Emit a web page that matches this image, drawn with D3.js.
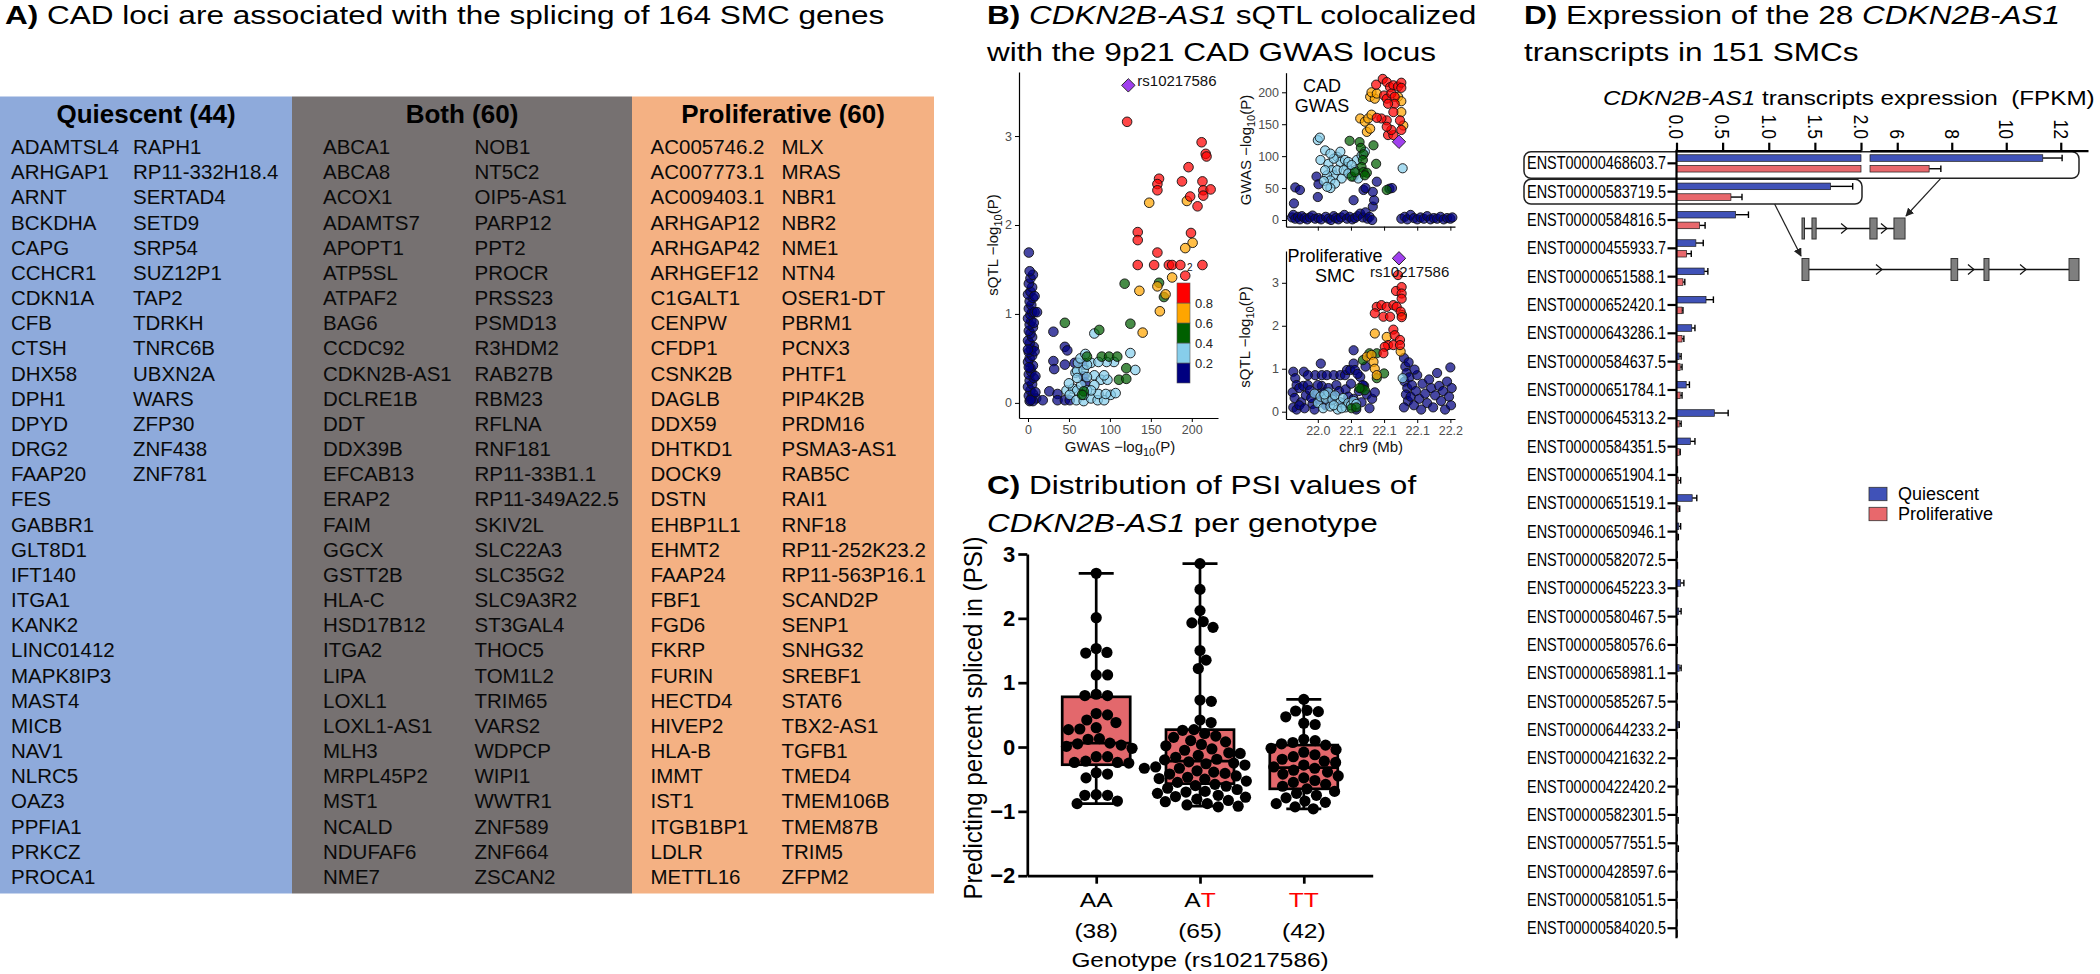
<!DOCTYPE html>
<html><head><meta charset="utf-8">
<script src="https://cdn.jsdelivr.net/npm/d3@7"></script>
<style>
body{margin:0;background:#fff}
svg{display:block}
text{font-family:"Liberation Sans",Arial,Helvetica,sans-serif;white-space:pre}
</style>
</head><body>
<svg id="c" width="2100" height="974"></svg>
<script>
// ================= DATA =================
// Panel A
const quiescentGenes = ["ADAMTSL4","ARHGAP1","ARNT","BCKDHA","CAPG","CCHCR1","CDKN1A","CFB","CTSH","DHX58","DPH1","DPYD","DRG2","FAAP20","FES","GABBR1","GLT8D1","IFT140","ITGA1","KANK2","LINC01412","MAPK8IP3","MAST4","MICB","NAV1","NLRC5","OAZ3","PPFIA1","PRKCZ","PROCA1","RAPH1","RP11-332H18.4","SERTAD4","SETD9","SRP54","SUZ12P1","TAP2","TDRKH","TNRC6B","UBXN2A","WARS","ZFP30","ZNF438","ZNF781"];
const bothGenes = ["ABCA1","ABCA8","ACOX1","ADAMTS7","APOPT1","ATP5SL","ATPAF2","BAG6","CCDC92","CDKN2B-AS1","DCLRE1B","DDT","DDX39B","EFCAB13","ERAP2","FAIM","GGCX","GSTT2B","HLA-C","HSD17B12","ITGA2","LIPA","LOXL1","LOXL1-AS1","MLH3","MRPL45P2","MST1","NCALD","NDUFAF6","NME7","NOB1","NT5C2","OIP5-AS1","PARP12","PPT2","PROCR","PRSS23","PSMD13","R3HDM2","RAB27B","RBM23","RFLNA","RNF181","RP11-33B1.1","RP11-349A22.5","SKIV2L","SLC22A3","SLC35G2","SLC9A3R2","ST3GAL4","THOC5","TOM1L2","TRIM65","VARS2","WDPCP","WIPI1","WWTR1","ZNF589","ZNF664","ZSCAN2"];
const proliferativeGenes = ["AC005746.2","AC007773.1","AC009403.1","ARHGAP12","ARHGAP42","ARHGEF12","C1GALT1","CENPW","CFDP1","CSNK2B","DAGLB","DDX59","DHTKD1","DOCK9","DSTN","EHBP1L1","EHMT2","FAAP24","FBF1","FGD6","FKRP","FURIN","HECTD4","HIVEP2","HLA-B","IMMT","IST1","ITGB1BP1","LDLR","METTL16","MLX","MRAS","NBR1","NBR2","NME1","NTN4","OSER1-DT","PBRM1","PCNX3","PHTF1","PIP4K2B","PRDM16","PSMA3-AS1","RAB5C","RAI1","RNF18","RP11-252K23.2","RP11-563P16.1","SCAND2P","SENP1","SNHG32","SREBF1","STAT6","TBX2-AS1","TGFB1","TMED4","TMEM106B","TMEM87B","TRIM5","ZFPM2"];

// Panel B : LD classes 0:<0.2 1:0.2-0.4 2:0.4-0.6 3:0.6-0.8 4:>0.8
const ldBreaks = [0,0.2,0.4,0.6,0.8,1.0];
const ldLabels = ["0.2","0.4","0.6","0.8"];
const leadSnp = "rs10217586";
const leadGwas = 122.5, leadSqtl = 3.57, leadPos = 22.1225;
// [GWAS -log10P, sQTL -log10P, LD class]
const colocPoints = [
[2,0.02,0],[4,0.05,0],[1,0.08,0],[6,0.10,0],[3,0.14,0],[0,0.18,0],[5,0.21,0],[2,0.25,0],[7,0.28,0],[1,0.32,0],[4,0.35,0],[3,0.39,0],[6,0.42,0],[0,0.46,0],[2,0.50,0],[5,0.53,0],[1,0.57,0],[4,0.60,0],[7,0.63,0],[2,0.67,0],[0,0.70,0],[5,0.74,0],[3,0.78,0],[1,0.81,0],[6,0.85,0],[2,0.88,0],[4,0.92,0],[0,0.95,0],[3,0.99,0],[5,1.02,0],[1,1.06,0],[4,1.10,0],[2,1.14,0],[6,1.18,0],[0,1.22,0],[3,1.25,0],[8,1.20,0],[5,1.30,0],[1,1.34,0],[3,1.40,0],[6,1.44,0],[2,1.48,0],[1,1.69,0],[9,0.30,0],[8,0.58,0],[10,0.05,0],[7,0.90,0],[9,0.12,0],[0,0.60,0],[1,0.40,0],[6,0.02,0],[3,0.03,0],[8,1.02,0],[11,1.02,0],
[18,0.03,0],[26,0.13,0],[31,0.80,0],[31,0.47,0],[32,0.38,0],[36,0.10,0],[36,0.03,0],[45,0.63,0],[48,0.59,0],[45,0.43,0],[45,0.03,0],[51,0.03,0],[57,0.45,0],[68,0.43,0],[68,0.30,0],[70,0.23,0],
[81,0.78,1],[58,0.34,1],[60,0.36,1],[68,0.37,1],[77,0.45,1],[61,0.45,1],[72,0.43,1],[81,0.31,1],[89,0.26,1],[97,0.26,1],[93,0.31,1],[47,0.14,1],[55,0.16,1],[60,0.14,1],[51,0.09,1],[59,0.03,1],[68,0.02,1],[77,0.05,1],[85,0.03,1],[93,0.03,1],[101,0.09,1],[107,0.11,1],[125,0.56,1],[131,0.37,1],[105,0.46,1],[96,0.46,1],[86,0.46,1],[72,0.29,1],[81,0.20,1],[65,0.20,1],[72,0.14,1],[86,0.10,1],[95,0.10,1],[60,0.28,1],[50,0.22,1],[77,0.14,1],[68,0.09,1],[64,0.50,1],[70,0.55,1],
[45,0.90,2],[87,0.82,2],[125,0.89,2],[72,0.52,2],[90,0.52,2],[99,0.52,2],[109,0.52,2],[120,0.39,2],[111,0.26,2],[120,0.27,2],[68,0.13,2],[66,0.09,2],[166,1.19,2],[118,1.34,2],[160,1.35,2],
[140,0.79,3],[161,1.03,3],[168,1.22,3],[136,1.26,3],[158,1.31,3],[176,1.41,3],[148,2.25,3],[194,2.27,3],[201,1.80,3],[192,1.74,3],
[121,3.16,4],[212,2.93,4],[217,2.80,4],[218,2.77,4],[196,2.65,4],[160,2.52,4],[158,2.46,4],[158,2.39,4],[188,2.49,4],[213,2.49,4],[198,2.32,4],[214,2.39,4],[223,2.40,4],[214,2.33,4],[207,2.21,4],[134,1.92,4],[134,1.83,4],[199,1.91,4],[158,1.69,4],[134,1.55,4],[154,1.55,4],[172,1.55,4],[176,1.55,4],[186,1.55,4],[213,1.55,4],[192,1.43,4]
];
// [chr9 position (Mb), CAD GWAS -log10P, LD class]
const gwasPoints = [
[21.961,4,0],[21.963,8,0],[21.966,2,0],[21.970,5,0],[21.973,1,0],[21.976,6,0],[21.980,3,0],[21.984,1,0],[21.988,4,0],[21.992,7,0],[21.996,2,0],[22.001,3,0],[22.005,1,0],[22.012,5,0],[22.016,2,0],[22.020,0,0],[22.024,6,0],[22.027,3,0],[22.031,1,0],[22.035,4,0],[22.040,8,0],[22.044,2,0],[22.048,5,0],[22.052,1,0],[22.056,3,0],[22.060,6,0],[22.064,10,0],[22.068,4,0],[22.072,12,0],[22.075,2,0],[22.078,5,0],[22.082,0,0],
[21.964,26,0],[21.966,51,0],[21.973,47,0],[21.998,68,0],[22.001,56,0],[22.000,36,0],[22.054,31,0],[22.069,47,0],[22.072,50,0],[22.083,21,0],[22.085,31,0],[22.083,44,0],[22.089,60,0],[22.108,49,0],[22.112,50,0],
[22.126,2,0],[22.131,5,0],[22.135,1,0],[22.140,8,0],[22.145,3,0],[22.150,1,0],[22.155,4,0],[22.160,2,0],[22.165,6,0],[22.170,1,0],[22.175,3,0],[22.180,2,0],[22.185,5,0],[22.190,1,0],[22.195,3,0],[22.200,2,0],[22.203,4,0],
[22.000,125,1],[22.003,129,1],[22.004,94,1],[22.011,109,1],[22.016,88,1],[22.021,78,1],[22.024,70,1],[22.014,70,1],[22.019,62,1],[22.009,61,1],[22.029,99,1],[22.034,91,1],[22.041,94,1],[22.044,83,1],[22.049,73,1],[22.054,68,1],[22.036,65,1],[22.026,57,1],[22.019,50,1],[22.029,78,1],[22.039,78,1],[22.046,73,1],[22.056,78,1],[22.059,94,1],[22.066,101,1],[22.014,52,1],[22.011,78,1],[22.024,96,1],[22.034,107,1],[22.019,104,1],[22.046,91,1],[22.051,86,1],[22.061,65,1],[22.071,107,1],[22.128,81,1],
[22.048,124,2],[22.063,122,2],[22.065,113,2],[22.069,103,2],[22.068,94,2],[22.066,83,2],[22.084,117,2],[22.088,88,2],[22.051,68,2],[22.056,75,2],[22.069,75,2],[22.074,74,2],[22.104,47,2],[22.071,70,2],
[22.064,159,3],[22.071,154,3],[22.076,159,3],[22.081,165,3],[22.074,138,3],[22.079,143,3],[22.079,193,3],[22.086,190,3],[22.081,200,3],[22.089,198,3],[22.121,193,3],[22.126,186,3],[22.126,169,3],[22.129,148,3],
[22.088,212,4],[22.098,221,4],[22.104,216,4],[22.109,208,4],[22.114,211,4],[22.121,209,4],[22.126,215,4],[22.126,207,4],[22.100,195,4],[22.104,190,4],[22.111,198,4],[22.116,193,4],[22.116,182,4],[22.106,182,4],[22.114,169,4],[22.104,156,4],[22.096,159,4],[22.089,160,4],[22.106,133,4],[22.114,133,4],[22.124,156,4],[22.126,141,4],[22.111,141,4],[22.104,146,4]
];
// [chr9 position (Mb), proliferative SMC sQTL -log10P, LD class]
const sqtlPoints = [
[21.963,0.93,0],[21.966,0.78,0],[21.979,0.93,0],[22.0045,1.12,0],[21.996,0.85,0],[22.006,0.85,0],[22.0135,0.85,0],[22.024,0.85,0],[22.034,0.85,0],[22.041,0.85,0],[22.044,0.97,0],[22.049,0.97,0],[22.054,1.12,0],[22.056,0.97,0],[22.054,1.43,0],[22.064,0.81,0],
[21.962,0.45,0],[21.965,0.32,0],[21.968,0.62,0],[21.972,0.55,0],[21.975,0.22,0],[21.978,0.60,0],[21.982,0.38,0],[21.985,0.62,0],[21.988,0.50,0],[21.992,0.18,0],[21.995,0.05,0],[21.998,0.40,0],[22.002,0.28,0],[22.006,0.60,0],[22.010,0.45,0],[21.963,0.10,0],[21.968,0.05,0],[21.972,0.15,0],[21.980,0.08,0],[21.990,0.32,0],[22.012,0.15,0],[22.016,0.55,0],[22.022,0.38,0],[22.028,0.62,0],[22.032,0.48,0],[22.038,0.20,0],[22.042,0.52,0],[22.046,0.35,0],[22.050,0.65,0],[22.054,0.30,0],[22.058,0.05,0],[22.062,0.48,0],[22.066,0.22,0],[22.070,0.60,0],[22.074,0.40,0],[22.078,0.08,0],[22.082,0.30,0],[22.086,0.45,0],[22.060,0.88,0],[22.068,0.62,0],[22.072,1.05,0],[21.985,0.85,0],[22.000,0.62,0],[22.020,0.25,0],
[22.130,1.25,0],[22.132,1.05,0],[22.134,0.90,0],[22.131,0.70,0],[22.135,0.55,0],[22.133,0.40,0],[22.136,0.25,0],[22.130,0.10,0],[22.138,0.80,0],[22.140,0.35,0],[22.142,0.62,0],[22.145,0.15,0],[22.148,0.48,0],[22.150,0.85,0],[22.153,0.30,0],[22.156,0.05,0],[22.158,0.65,0],[22.162,0.42,0],[22.165,0.20,0],[22.168,0.75,0],[22.171,0.55,0],[22.174,0.10,0],[22.177,0.38,0],[22.180,0.90,0],[22.183,0.60,0],[22.186,0.25,0],[22.189,0.48,0],[22.192,0.05,0],[22.195,0.70,0],[22.198,0.35,0],[22.200,1.03,0],[22.202,0.55,0],[22.201,0.15,0],[22.137,1.15,0],[22.146,0.98,0],
[21.995,0.42,1],[22.000,0.20,1],[22.004,0.35,1],[22.008,0.08,1],[22.012,0.30,1],[22.016,0.45,1],[22.019,0.12,1],[22.022,0.28,1],[22.026,0.38,1],[22.030,0.05,1],[22.034,0.22,1],[22.038,0.32,1],[22.042,0.10,1],[22.046,0.20,1],[22.050,0.15,1],[22.054,0.25,1],[22.058,0.18,1],[22.010,0.40,1],[22.024,0.15,1],[22.036,0.08,1],[22.128,0.78,1],
[22.078,1.36,2],[22.089,1.36,2],[22.100,0.89,2],[22.068,1.20,2],[22.089,0.78,2],[22.066,0.54,2],[22.071,0.50,2],[22.051,0.08,2],[22.058,0.10,2],[22.063,0.55,2],
[22.086,1.82,3],[22.104,1.74,3],[22.127,2.25,3],[22.074,1.28,3],[22.081,1.32,3],[22.084,1.16,3],[22.086,1.00,3],[22.125,1.40,3],[22.089,0.85,3],
[22.089,2.44,4],[22.096,2.48,4],[22.104,2.44,4],[22.114,2.48,4],[22.119,2.44,4],[22.086,2.29,4],[22.099,2.21,4],[22.109,2.21,4],[22.118,2.81,4],[22.1265,2.90,4],[22.1265,2.75,4],[22.1265,2.63,4],[22.125,2.33,4],[22.1265,2.20,4],[22.121,3.18,4],[22.114,1.91,4],[22.116,1.78,4],[22.124,1.67,4],[22.106,1.55,4],[22.114,1.55,4],[22.101,1.51,4],[22.099,1.36,4],[22.124,1.55,4]
];
const colocXTicks = [0,50,100,150,200];
const colocYTicks = [0,1,2,3];
const gwasYTicks = [0,50,100,150,200];
const posTicks = [22.0,22.05,22.1,22.15,22.2];
const posTickLabels = ["22.0","22.1","22.1","22.1","22.2"];

// Panel C
const genotypes = ["AA","AT","TT"];
const genotypeN = [38,65,42];
const psiAA = [2.70,2.01,1.53,1.47,1.46,1.12,1.12,0.82,0.80,0.80,0.52,0.50,0.42,0.38,0.30,0.28,0.27,0.13,0.12,0.06,0.05,0.03,0.01,-0.02,-0.15,-0.15,-0.22,-0.24,-0.24,-0.25,-0.40,-0.42,-0.48,-0.74,-0.75,-0.75,-0.84,-0.88];
const psiAT = [2.85,2.45,2.12,1.95,1.93,1.86,1.50,1.35,1.22,0.73,0.71,0.42,0.38,0.27,0.26,0.21,0.17,0.15,0.10,0.08,0.04,0.02,-0.03,-0.05,-0.09,-0.10,-0.13,-0.16,-0.19,-0.20,-0.23,-0.25,-0.26,-0.28,-0.31,-0.33,-0.33,-0.37,-0.39,-0.41,-0.42,-0.45,-0.47,-0.49,-0.50,-0.53,-0.55,-0.58,-0.60,-0.61,-0.64,-0.66,-0.69,-0.70,-0.72,-0.75,-0.77,-0.78,-0.81,-0.83,-0.85,-0.88,-0.90,-0.92,-0.93];
const psiTT = [0.74,0.57,0.56,0.55,0.47,0.37,0.35,0.12,0.10,0.07,0.05,0.03,-0.02,-0.04,-0.08,-0.12,-0.15,-0.19,-0.22,-0.24,-0.28,-0.31,-0.33,-0.36,-0.39,-0.42,-0.45,-0.48,-0.52,-0.55,-0.58,-0.61,-0.65,-0.69,-0.72,-0.75,-0.79,-0.84,-0.86,-0.88,-0.93,-0.96];
const boxMax = [2.70,2.85,0.74];
const boxQ3 = [0.78,0.27,0.03];
const boxMedian = [0.06,-0.22,-0.32];
const boxQ1 = [-0.275,-0.57,-0.65];
const boxMin = [-0.88,-0.92,-0.96];
const psiTicks = [-2,-1,0,1,2,3];

// Panel D
const transcripts = ["ENST00000468603.7","ENST00000583719.5","ENST00000584816.5","ENST00000455933.7","ENST00000651588.1","ENST00000652420.1","ENST00000643286.1","ENST00000584637.5","ENST00000651784.1","ENST00000645313.2","ENST00000584351.5","ENST00000651904.1","ENST00000651519.1","ENST00000650946.1","ENST00000582072.5","ENST00000645223.3","ENST00000580467.5","ENST00000580576.6","ENST00000658981.1","ENST00000585267.5","ENST00000644233.2","ENST00000421632.2","ENST00000422420.2","ENST00000582301.5","ENST00000577551.5","ENST00000428597.6","ENST00000581051.5","ENST00000584020.5"];
const quiescentMean = [11.34,1.67,0.64,0.21,0.30,0.32,0.165,0.03,0.105,0.41,0.15,0.005,0.17,0.025,0.004,0.045,0.025,0.004,0.03,0.004,0.02,0.003,0.004,0.004,0.004,0.002,0.002,0.002];
const quiescentErr = [12.05,1.91,0.78,0.29,0.34,0.40,0.20,0.05,0.14,0.56,0.20,0.01,0.22,0.045,0.008,0.08,0.05,0.008,0.05,0.008,0.03,0.005,0.008,0.008,0.008,0.004,0.004,0.004];
const proliferativeMean = [7.17,0.59,0.25,0.11,0.07,0.06,0.06,0.04,0.04,0.03,0.03,0.02,0.02,0.01,0.004,0.005,0.005,0.004,0.003,0.003,0.003,0.003,0.005,0.006,0.008,0.003,0.002,0.002];
const proliferativeErr = [7.6,0.71,0.31,0.16,0.09,0.07,0.08,0.06,0.06,0.05,0.04,0.045,0.035,0.02,0.01,0.012,0.01,0.008,0.006,0.008,0.008,0.006,0.015,0.018,0.02,0.005,0.004,0.004];
const fpkmTicksLow = [0,0.5,1.0,1.5,2.0];
const fpkmTicksHigh = [6,8,10,12];
const conditions = ["Quiescent","Proliferative"];
// gene model exons (relative positions along the locus, 0..1)
const geneModel1 = {end:0.372, exons:[[0,0.009],[0.036,0.051],[0.245,0.271],[0.332,0.372]], arrows:[0.152,0.296]};
const geneModel2 = {end:1.0, exons:[[0,0.025],[0.538,0.562],[0.657,0.675],[0.964,1.0]], arrows:[0.278,0.61,0.798]};

// ================= DRAWING =================
const svg = d3.select("#c");
const FONT = '"Liberation Sans",Arial,Helvetica,sans-serif';

function title(x, y, parts, size=26.5, sx=1.19){
  const t = svg.append("text").attr("transform",`translate(${x},${y}) scale(${sx},1)`).attr("font-size",size).attr("fill","#000");
  parts.forEach(p=>{
    const s=t.append("tspan").text(p.t);
    if(p.b) s.attr("font-weight","bold");
    if(p.i) s.attr("font-style","italic");
  });
  return t;
}
function styleAxis(g, fs, color, weight){
  g.attr("font-family",null).attr("font-size",null);
  g.selectAll("text").attr("font-family",FONT).attr("font-size",fs).attr("fill",color).attr("font-weight",weight||null);
  g.selectAll("line,path").attr("stroke","#000");
}

// ---------- Panel A ----------
title(5,24,[{t:"A)",b:true},{t:" CAD loci are associated with the splicing of 164 SMC genes"}]);
const blocks = [
  {name:"Quiescent", genes:quiescentGenes, x0:0, x1:292, cols:[11,133], fill:"#8eaadb"},
  {name:"Both", genes:bothGenes, x0:292, x1:632, cols:[323,474.5], fill:"#767171"},
  {name:"Proliferative", genes:proliferativeGenes, x0:632, x1:934, cols:[650.5,781.5], fill:"#f4b183"}
];
const rowY = d3.scaleLinear().domain([0,29]).range([154,884]);
blocks.forEach(b=>{
  svg.append("rect").attr("x",b.x0).attr("y",96.5).attr("width",b.x1-b.x0).attr("height",893.5-96.5).attr("fill",b.fill);
  svg.append("text").attr("x",(b.x0+b.x1)/2).attr("y",122.5).attr("text-anchor","middle")
    .attr("font-size",26).attr("font-weight","bold").text(`${b.name} (${b.genes.length})`);
  b.genes.forEach((g,i)=>{
    const col = Math.floor(i/30), row = i%30;
    svg.append("text").attr("x",b.cols[col]).attr("y",rowY(row)).attr("font-size",20.5).attr("fill","#0a0a0a").text(g);
  });
});

// ---------- Panel B ----------
title(987,24,[{t:"B)",b:true},{t:" "},{t:"CDKN2B-AS1",i:true},{t:" sQTL colocalized"}]);
title(987,61,[{t:"with the 9p21 CAD GWAS locus"}]);
const ldColor = ["#000080","#87CEEB","#006000","#FFA500","#FF0000"];
function drawPoints(data, xs, ys, r){
  const sorted = data.slice().sort((a,b)=>a[2]-b[2]);
  svg.append("g").selectAll("circle").data(sorted).join("circle")
    .attr("cx",d=>xs(d[0])).attr("cy",d=>ys(d[1])).attr("r",r)
    .attr("fill",d=>ldColor[d[2]]).attr("fill-opacity",0.72)
    .attr("stroke","#111").attr("stroke-width",0.9);
}
function diamond(x,y){
  svg.append("path").attr("d",d3.symbol(d3.symbolSquare,90)()).attr("transform",`translate(${x},${y}) rotate(45)`)
    .attr("fill","#a040ee").attr("stroke","#222").attr("stroke-width",0.9);
}
function ylabel(x,y,pre){
  const t = svg.append("text").attr("transform",`translate(${x},${y}) rotate(-90)`).attr("text-anchor","middle").attr("font-size",15).attr("fill","#111");
  t.append("tspan").text(pre+" \u2212log");
  t.append("tspan").attr("font-size",11).attr("dy",4).text("10");
  t.append("tspan").attr("dy",-4).text("(P)");
}
// left: sQTL vs GWAS
const xG = d3.scaleLinear().domain([-11,232]).range([1019,1218]);
const yS = d3.scaleLinear().domain([-0.17,3.72]).range([418,72]);
drawPoints(colocPoints, xG, yS, 4.8);
diamond(xG(leadGwas), yS(leadSqtl));
svg.append("text").attr("x",xG(leadGwas)+9).attr("y",yS(leadSqtl)+1).attr("font-size",15).attr("fill","#111").text(leadSnp);
let g = svg.append("g").attr("transform","translate(0,418)").call(d3.axisBottom(xG).tickValues(colocXTicks).tickSize(4).tickSizeOuter(0).tickPadding(3).tickFormat(d3.format("d")));
styleAxis(g,12.5,"#4d4d4d"); g.select(".domain").attr("stroke-width",1.2);
g = svg.append("g").attr("transform","translate(1019,0)").call(d3.axisLeft(yS).tickValues(colocYTicks).tickSize(4).tickSizeOuter(0).tickPadding(3).tickFormat(d3.format("d")));
styleAxis(g,12.5,"#4d4d4d"); g.select(".domain").attr("stroke-width",1.2);
(function(){
  const t = svg.append("text").attr("x",1120).attr("y",452).attr("text-anchor","middle").attr("font-size",15).attr("fill","#111");
  t.append("tspan").text("GWAS \u2212log"); t.append("tspan").attr("font-size",11).attr("dy",4).text("10"); t.append("tspan").attr("dy",-4).text("(P)");
})();
ylabel(998,245,"sQTL");
// colour bar legend
const yLeg = d3.scaleLinear().domain([0,1]).range([383,283]);
svg.append("text").attr("x",1187).attr("y",271).attr("font-size",10).attr("fill","#111").text("2");
ldColor.forEach((c,i)=>{
  svg.append("rect").attr("x",1177).attr("width",13).attr("y",yLeg(ldBreaks[i+1])).attr("height",yLeg(ldBreaks[i])-yLeg(ldBreaks[i+1]))
    .attr("fill",c).attr("stroke","#555").attr("stroke-width",0.6);
});
ldLabels.forEach((l,i)=>{
  svg.append("text").attr("x",1195).attr("y",yLeg(ldBreaks[i+1])+4.5).attr("font-size",13).attr("fill","#222").text(l);
});

// right top: CAD GWAS regional
const xM = d3.scaleLinear().domain([21.952,22.207]).range([1286,1455]);
const yGW = d3.scaleLinear().domain([-10.5,230.7]).range([226.7,72.7]);
drawPoints(gwasPoints, xM, yGW, 4.6);
diamond(xM(leadPos), yGW(leadGwas));
g = svg.append("g").attr("transform","translate(0,226.7)").call(d3.axisBottom(xM).tickValues(posTicks).tickSize(4).tickSizeOuter(0).tickFormat(""));
styleAxis(g,12.5,"#4d4d4d"); g.select(".domain").attr("stroke-width",1.2);
g = svg.append("g").attr("transform","translate(1286,0)").call(d3.axisLeft(yGW).tickValues(gwasYTicks).tickSize(4).tickSizeOuter(0).tickPadding(3).tickFormat(d3.format("d")));
styleAxis(g,12.5,"#4d4d4d"); g.select(".domain").attr("stroke-width",1.2);
svg.append("text").attr("x",1322).attr("y",92).attr("text-anchor","middle").attr("font-size",18).text("CAD");
svg.append("text").attr("x",1322).attr("y",112).attr("text-anchor","middle").attr("font-size",18).text("GWAS");
ylabel(1251,150,"GWAS");

// right bottom: proliferative SMC sQTL regional
const ySP = d3.scaleLinear().domain([-0.17,3.74]).range([419,251]);
drawPoints(sqtlPoints, xM, ySP, 4.6);
diamond(xM(leadPos), ySP(leadSqtl));
svg.append("text").attr("x",1370).attr("y",277).attr("font-size",15).attr("fill","#111").text(leadSnp);
g = svg.append("g").attr("transform","translate(0,419)").call(d3.axisBottom(xM).tickValues(posTicks).tickSize(4).tickSizeOuter(0).tickPadding(3).tickFormat((d,i)=>posTickLabels[i]));
styleAxis(g,12.5,"#4d4d4d"); g.select(".domain").attr("stroke-width",1.2);
g = svg.append("g").attr("transform","translate(1286,0)").call(d3.axisLeft(ySP).tickValues(colocYTicks).tickSize(4).tickSizeOuter(0).tickPadding(3).tickFormat(d3.format("d")));
styleAxis(g,12.5,"#4d4d4d"); g.select(".domain").attr("stroke-width",1.2);
svg.append("text").attr("x",1335).attr("y",262).attr("text-anchor","middle").attr("font-size",18).text("Proliferative");
svg.append("text").attr("x",1335).attr("y",282).attr("text-anchor","middle").attr("font-size",18).text("SMC");
svg.append("text").attr("x",1371).attr("y",452).attr("text-anchor","middle").attr("font-size",15).attr("fill","#111").text("chr9 (Mb)");
ylabel(1250,337,"sQTL");

// ---------- Panel C ----------
title(987,494,[{t:"C)",b:true},{t:" Distribution of PSI values of"}]);
title(987,532,[{t:"CDKN2B-AS1",i:true},{t:" per genotype"}]);
const yC = d3.scaleLinear().domain([-2,3]).range([875.7,554]);
const xC = d3.scalePoint().domain(genotypes).range([1027.3,1372.7]).padding(0.664);
const psi = [psiAA, psiAT, psiTT];
const boxW = 68, capW = 35, dotR = 5.6;
genotypes.forEach((gt,i)=>{
  const cx = xC(gt);
  svg.append("line").attr("x1",cx).attr("x2",cx).attr("y1",yC(boxMax[i])).attr("y2",yC(boxQ3[i])).attr("stroke","#000").attr("stroke-width",2.7);
  svg.append("line").attr("x1",cx).attr("x2",cx).attr("y1",yC(boxQ1[i])).attr("y2",yC(boxMin[i])).attr("stroke","#000").attr("stroke-width",2.7);
  [boxMax[i],boxMin[i]].forEach(v=>svg.append("line").attr("x1",cx-capW/2).attr("x2",cx+capW/2).attr("y1",yC(v)).attr("y2",yC(v)).attr("stroke","#000").attr("stroke-width",2.7));
  svg.append("rect").attr("x",cx-boxW/2).attr("width",boxW).attr("y",yC(boxQ3[i])).attr("height",yC(boxQ1[i])-yC(boxQ3[i]))
    .attr("fill","#e3686c").attr("stroke","#000").attr("stroke-width",2.7);
  svg.append("line").attr("x1",cx-boxW/2).attr("x2",cx+boxW/2).attr("y1",yC(boxMedian[i])).attr("y2",yC(boxMedian[i])).attr("stroke","#000").attr("stroke-width",2.7);
  const vals = psi[i].slice().sort((a,b)=>b-a);
  const placed = [], D = 11.4;
  vals.forEach(v=>{
    const y = yC(v);
    const cands = [0];
    placed.forEach(p=>{ const dy=Math.abs(p.y-y); if(dy<D){ const dx=Math.sqrt(D*D-dy*dy); cands.push(p.x+dx,p.x-dx);} });
    cands.sort((a,b)=>Math.abs(a)-Math.abs(b));
    let x = 0;
    for(const c of cands){ if(placed.every(p=>(p.x-c)*(p.x-c)+(p.y-y)*(p.y-y) >= D*D-0.01)){ x=c; break; } }
    placed.push({x,y});
  });
  svg.append("g").selectAll("circle").data(placed).join("circle").attr("cx",d=>cx+d.x).attr("cy",d=>d.y).attr("r",dotR).attr("fill","#000");
  const t = svg.append("text").attr("transform",`translate(${cx},907) scale(1.17,1)`).attr("text-anchor","middle").attr("font-size",21);
  gt.split("").forEach(ch=>t.append("tspan").attr("fill",ch==="T"?"#ff0000":"#000").text(ch));
  svg.append("text").attr("transform",`translate(${cx},938) scale(1.17,1)`).attr("text-anchor","middle").attr("font-size",21).text(`(${genotypeN[i]})`);
});
g = svg.append("g").attr("transform","translate(1027.3,0)").call(d3.axisLeft(yC).tickValues(psiTicks).tickSize(9).tickSizeOuter(0).tickPadding(3).tickFormat(d3.format("d")));
styleAxis(g,22,"#000","bold"); g.selectAll("line,path").attr("stroke-width",2.7);
g = svg.append("g").attr("transform","translate(0,875.7)").call(d3.axisBottom(xC).tickSize(8).tickSizeOuter(0).tickFormat(""));
styleAxis(g,20,"#000"); g.selectAll("line,path").attr("stroke-width",2.7);
svg.append("text").attr("transform","translate(1200,967) scale(1.16,1)").attr("text-anchor","middle").attr("font-size",21).text("Genotype (rs10217586)");
svg.append("text").attr("transform","translate(982,718) rotate(-90)").attr("text-anchor","middle").attr("font-size",25)
  .attr("textLength",363).attr("lengthAdjust","spacingAndGlyphs").text("Predicting percent spliced in (PSI)");

// ---------- Panel D ----------
title(1524,24,[{t:"D)",b:true},{t:" Expression of the 28 "},{t:"CDKN2B-AS1",i:true}]);
title(1524,61,[{t:"transcripts in 151 SMCs"}]);
(function(){
  const t = svg.append("text").attr("transform","translate(1603,105) scale(1.155,1)").attr("font-size",21);
  t.append("tspan").attr("font-style","italic").text("CDKN2B-AS1");
  t.append("tspan").text(" transcripts expression  (FPKM)");
})();
const xLo = d3.scaleLinear().domain([0,2]).range([1676.5,1861]);
const xHi = d3.scaleLinear().domain([5,13]).range([1870,2088]);
const yD = d3.scaleBand().domain(transcripts).range([149.17,149.17+28*28.33]);
const yc = t => yD(t)+yD.bandwidth()/2;
svg.append("rect").attr("x",1524).attr("y",151.7).attr("width",2079-1524).attr("height",26.6).attr("rx",7).attr("fill","none").attr("stroke","#222").attr("stroke-width",1.5);
svg.append("rect").attr("x",1524).attr("y",179.3).attr("width",1862-1524).attr("height",24.7).attr("rx",7).attr("fill","none").attr("stroke","#222").attr("stroke-width",1.5);
svg.append("defs").append("marker").attr("id","ah").attr("viewBox","0 0 10 10").attr("refX",9).attr("refY",5)
  .attr("markerWidth",7).attr("markerHeight",7).attr("orient","auto").append("path").attr("d","M0,0L10,5L0,10z").attr("fill","#222");
svg.append("line").attr("x1",1774.6).attr("y1",204).attr("x2",1801).attr("y2",256).attr("stroke","#222").attr("stroke-width",1.2).attr("marker-end","url(#ah)");
svg.append("line").attr("x1",1940.8).attr("y1",178.3).attr("x2",1906).attr("y2",216).attr("stroke","#222").attr("stroke-width",1.2).attr("marker-end","url(#ah)");
const xGM = d3.scaleLinear().domain([0,1]).range([1802,2079]);
[[geneModel1,228.5,21],[geneModel2,269.5,22]].forEach(([m,y,h])=>{
  svg.append("line").attr("x1",xGM(0)).attr("x2",xGM(m.end)).attr("y1",y).attr("y2",y).attr("stroke","#111").attr("stroke-width",1.6);
  m.arrows.forEach(a=>svg.append("path").attr("d",`M${xGM(a)-3},${y-5}L${xGM(a)+3},${y}L${xGM(a)-3},${y+5}`).attr("fill","none").attr("stroke","#111").attr("stroke-width",1.2));
  m.exons.forEach(e=>svg.append("rect").attr("x",xGM(e[0])).attr("width",Math.max(2.5,xGM(e[1])-xGM(e[0]))).attr("y",y-h/2).attr("height",h)
    .attr("fill","#7f7f7f").attr("stroke","#333").attr("stroke-width",1));
});
const barColor = {Quiescent:"#4052b8", Proliferative:"#e8686c"};
const series = [
  {name:"Quiescent", mean:quiescentMean, err:quiescentErr, off:-8.6},
  {name:"Proliferative", mean:proliferativeMean, err:proliferativeErr, off:2.1}
];
const bh = 6.6;
function xv(v){ return v<=2 ? xLo(v) : xHi(v); }
series.forEach(s=>{
  transcripts.forEach((t,i)=>{
    const y0 = yc(t)+s.off, m = s.mean[i], e = s.err[i];
    svg.append("line").attr("x1",xv(m)).attr("x2",xv(e)).attr("y1",y0+bh/2).attr("y2",y0+bh/2).attr("stroke","#000").attr("stroke-width",1.4);
    svg.append("line").attr("x1",xv(e)).attr("x2",xv(e)).attr("y1",y0).attr("y2",y0+bh).attr("stroke","#000").attr("stroke-width",1.4);
    if(m>2){
      svg.append("rect").attr("x",xLo(0)).attr("y",y0).attr("width",xLo(2)-xLo(0)).attr("height",bh).attr("fill",barColor[s.name]).attr("stroke","#1a1a1a").attr("stroke-width",0.7);
      svg.append("rect").attr("x",xHi(5)).attr("y",y0).attr("width",xHi(m)-xHi(5)).attr("height",bh).attr("fill",barColor[s.name]).attr("stroke","#1a1a1a").attr("stroke-width",0.7);
    } else {
      svg.append("rect").attr("x",xLo(0)).attr("y",y0).attr("width",Math.max(0.6,xLo(m)-xLo(0))).attr("height",bh).attr("fill",barColor[s.name]).attr("stroke","#1a1a1a").attr("stroke-width",0.7);
    }
  });
});
g = svg.append("g").attr("transform","translate(0,150.7)").call(d3.axisTop(xLo).tickValues(fpkmTicksLow).tickSize(8).tickSizeOuter(0).tickFormat(""));
g.selectAll("line,path").attr("stroke","#000").attr("stroke-width",2.2);
g = svg.append("g").attr("transform","translate(0,150.7)").call(d3.axisTop(xHi).tickValues(fpkmTicksHigh).tickSize(8).tickSizeOuter(0).tickFormat(""));
g.selectAll("line,path").attr("stroke","#000").attr("stroke-width",2.2);
const tickLab = fpkmTicksLow.map(v=>({x:xLo(v),s:d3.format(".1f")(v)})).concat(fpkmTicksHigh.map(v=>({x:xHi(v),s:String(v)})));
tickLab.forEach(d=>svg.append("text").attr("transform",`translate(${d.x},139) rotate(90) scale(0.88,1)`).attr("text-anchor","end").attr("dy","0.36em").attr("font-size",20).text(d.s));
svg.append("line").attr("x1",1676.5).attr("x2",1676.5).attr("y1",149.7).attr("y2",938.3).attr("stroke","#000").attr("stroke-width",2.2);
g = svg.append("g").attr("transform","translate(1676.5,0)").call(d3.axisLeft(yD).tickSize(9).tickSizeOuter(0).tickPadding(1.5));
g.select(".domain").remove();
g.attr("font-family",null).attr("font-size",null);
g.selectAll("line").attr("stroke","#000").attr("stroke-width",2.2);
g.selectAll("text").attr("font-family",FONT).attr("font-size",18.5).attr("fill","#000").attr("textLength",139).attr("lengthAdjust","spacingAndGlyphs");
conditions.forEach((c,i)=>{
  svg.append("rect").attr("x",1869).attr("y",487.3+i*20).attr("width",18).attr("height",13.4).attr("fill",barColor[c]).attr("stroke","#333").attr("stroke-width",0.8);
  svg.append("text").attr("x",1898).attr("y",500+i*20).attr("font-size",18).text(c);
});
</script>
</body></html>
